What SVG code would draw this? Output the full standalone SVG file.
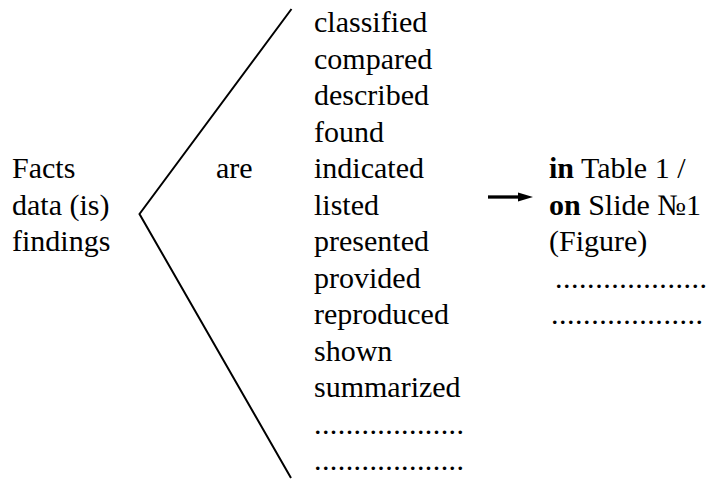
<svg xmlns="http://www.w3.org/2000/svg" width="711" height="480" viewBox="0 0 711 480">
<style>
.t text{font-size:30px;fill:#000}
.b{font-weight:bold}
.ln{stroke:#000;stroke-width:2;fill:none}
</style>
<rect width="711" height="480" fill="#fff"/>
<g class="t" font-family="Liberation Serif" style="font-family:'Liberation Serif',serif">
<g id="subjects">
<text x="12" y="178">Facts</text>
<text x="12" y="214.5">data (is)</text>
<text x="12" y="251">findings</text>
</g>
<g id="verb">
<text x="216" y="178">are</text>
</g>
<g id="participles">
<text x="314" y="32">classified</text>
<text x="314" y="68.5">compared</text>
<text x="314" y="105">described</text>
<text x="314" y="141.5">found</text>
<text x="314" y="178">indicated</text>
<text x="314" y="214.5">listed</text>
<text x="314" y="251">presented</text>
<text x="314" y="287.5">provided</text>
<text x="314" y="324">reproduced</text>
<text x="314" y="360.5">shown</text>
<text x="314" y="397">summarized</text>
<text x="314" y="433.5" textLength="150" lengthAdjust="spacing">...................</text>
<text x="314" y="470" textLength="150" lengthAdjust="spacing">...................</text>
</g>
<g id="location">
<text x="549" y="178"><tspan class="b">in</tspan> Table 1 /</text>
<text x="549" y="214.5"><tspan class="b">on</tspan> Slide №1</text>
<text x="549" y="251">(Figure)</text>
<text x="555" y="287.5" textLength="152" lengthAdjust="spacing">...................</text>
<text x="551" y="324" textLength="152" lengthAdjust="spacing">...................</text>
</g>
</g>
<g id="connectors">
<polyline class="ln" points="291.5,9 139.5,214 291,478"/>
<line x1="488" y1="197" x2="520" y2="197" stroke="#000" stroke-width="3.3"/>
<polygon points="518,192.5 533,197 518,201.5" fill="#000"/>
</g>
</svg>
